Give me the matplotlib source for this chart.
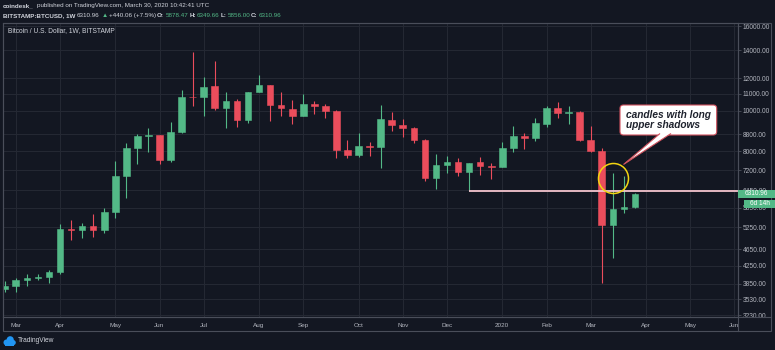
import numpy as np
import pandas as pd
import matplotlib
matplotlib.use("Agg")
import matplotlib.pyplot as plt
import matplotlib.dates as mdates
from matplotlib.patches import Rectangle, FancyBboxPatch, Polygon, Circle
from matplotlib.lines import Line2D
from matplotlib.ticker import FixedLocator, FixedFormatter, NullLocator
from matplotlib.transforms import Bbox

# weekly BTCUSD candles, Bitstamp
weeks = pd.date_range("2019-02-25", periods=58, freq="W-MON")
opens = [3740, 3800, 3915, 3970, 3985, 4100, 5200, 5165, 5300, 5165,
         5710, 6975, 8160, 8720, 8750, 7640, 8900, 10830, 10780, 11450,
         10160, 10595, 9525, 11110, 11540, 10320, 10130, 9730, 10395, 10300,
         10020, 8060, 7850, 8240, 8200, 9525, 9260, 9090, 8530, 6900,
         7400, 7520, 7120, 7520, 7360, 7335, 8140, 8720, 8610, 9300,
         10160, 9900, 9960, 8500, 8010, 5330, 5830, 5878.47]
highs = [3900, 3970, 4060, 4060, 4160, 5350, 5470, 5380, 5640, 5840,
         7600, 8370, 8800, 9080, 8760, 9400, 11240, 13880, 12050, 13200,
         11100, 10700, 11130, 12230, 11560, 11090, 10630, 11000, 10540, 10400,
         10050, 8530, 8830, 8400, 10360, 9960, 9570, 9150, 8540, 7900,
         7780, 7700, 7500, 7750, 7500, 8410, 9200, 8840, 9610, 10290,
         10480, 10290, 9980, 9210, 8150, 7100, 6980, 6349.66]
lows = [3670, 3675, 3790, 3920, 3860, 4060, 4910, 4960, 4990, 5080,
        5540, 6190, 7450, 7990, 7440, 7520, 8860, 10260, 9700, 10070,
        9090, 9150, 9350, 11090, 9440, 9730, 9320, 9700, 9830, 9620,
        7710, 7710, 7750, 7800, 7300, 8930, 8640, 8370, 6800, 6510,
        7100, 6990, 6425, 7020, 6860, 7330, 7980, 8100, 8450, 9150,
        9600, 9300, 8450, 7980, 3860, 4440, 5680, 5856.00]
closes = [3800, 3915, 3975, 3985, 4100, 5195, 5165, 5300, 5165, 5710,
          6975, 8160, 8720, 8750, 7640, 8900, 10830, 10780, 11430, 10160,
          10595, 9525, 11110, 11540, 10320, 10150, 9730, 10395, 10265, 10020,
          8070, 7850, 8230, 8180, 9560, 9230, 9090, 8500, 6900, 7420,
          7520, 7130, 7495, 7390, 7320, 8150, 8690, 8610, 9350, 10160,
          9900, 9940, 8530, 8000, 5330, 5820, 5880, 6310.96]

price_ticks = [3230, 3530, 3850, 4250, 4650, 5250, 5850, 6450, 7200, 8000,
               8800, 10000, 11000, 12000, 14000, 16000]
month_ticks = ["2019-03-04", "2019-04-01", "2019-05-06", "2019-06-03",
               "2019-07-01", "2019-08-05", "2019-09-02", "2019-10-07",
               "2019-11-04", "2019-12-02", "2020-01-06", "2020-02-03",
               "2020-03-02", "2020-04-06", "2020-05-04", "2020-06-01"]
month_labels = ["Mar", "Apr", "May", "Jun", "Jul", "Aug", "Sep", "Oct",
                "Nov", "Dec", "2020", "Feb", "Mar", "Apr", "May", "Jun"]

BG = "#131722"
GRID = "#242833"
BORDER = "#4a4e5a"
TEXT = "#d1d4dc"
AXTEXT = "#b2b5be"
UP = "#53b987"
DOWN = "#eb4d5c"

plt.rcParams["font.family"] = ["Liberation Sans", "DejaVu Sans"]

W, H = 775, 350
fig = plt.figure(figsize=(W / 100, H / 100), dpi=100, facecolor=BG)
renderer = fig.canvas.get_renderer()


def fx(x):
    return x / W


def fy(y):
    return 1 - y / H


def inch(x, y):
    return x / 100, (H - y) / 100


def text_run(y, parts, size):
    # place text pieces left to right, never closer than 1px to the previous one
    end = 0
    for xp, s, col, weight in parts:
        xp = max(xp, end + 1)
        t = fig.text(fx(xp), fy(y), s, color=col, fontsize=size,
                     fontweight=weight, va="center", ha="left")
        end = t.get_window_extent(renderer).x1


left, top, right, bottom = 3, 22.7, 738, 316.5
ax = fig.add_axes([fx(left), fy(bottom), (right - left) / W, (bottom - top) / H])
ax.set_facecolor(BG)

x = mdates.date2num(weeks)
o = np.array(opens)
h = np.array(highs)
l = np.array(lows)
c = np.array(closes)
colors = np.where(c >= o, UP, DOWN)

ax.vlines(x, l, h, colors=colors, linewidth=0.8, zorder=2)
ax.bar(x, np.abs(c - o), bottom=np.minimum(o, c), width=4.2, color=colors,
       edgecolor=colors, linewidth=0.4, zorder=3)

ax.set_yscale("log")
x_left = x[0] - 1.08
x_right = x_left + 465.3
ax.set_xlim(x_left, x_right)
ax.set_ylim(3208, 16295)

# support line drawn from the December low
ax.hlines(lows[42], x[42], x_right, colors="#f4c4ce", linewidth=1.3, zorder=4)

ax.yaxis.tick_right()
ax.yaxis.set_major_locator(FixedLocator(price_ticks))
ax.yaxis.set_major_formatter(FixedFormatter([f"{v:.2f}" for v in price_ticks]))
ax.yaxis.set_minor_locator(NullLocator())
ax.set_xticks(mdates.date2num(pd.to_datetime(month_ticks)))
ax.set_xticklabels(month_labels)
ax.tick_params(axis="y", colors=BORDER, labelcolor=AXTEXT, labelsize=4.8,
               length=2, width=0.6, pad=1.6)
ax.tick_params(axis="x", colors=BORDER, labelcolor=AXTEXT, labelsize=4.6,
               length=0, pad=4.5)
ax.grid(True, color=GRID, linewidth=0.8)
ax.set_axisbelow(True)
for s in ax.spines.values():
    s.set_color(BORDER)
    s.set_linewidth(0.8)
for lab in ax.get_xticklabels():
    lab.set_clip_box(Bbox.from_extents(0, 0, right, H))
    lab.set_clip_on(True)

# marker around the long upper shadows
ax.plot(x[55], 6890, marker="o", markersize=21.6, markerfacecolor="none",
        markeredgecolor="#f3d511", markeredgewidth=1.1, zorder=6)

# outer frame and panel separators
fig.patches.append(Rectangle(inch(3, 331), 7.68, 3.083, transform=fig.dpi_scale_trans,
                             fill=False, edgecolor=BORDER, linewidth=0.8))
fig.lines.append(Line2D([fx(3), fx(771)], [fy(bottom), fy(bottom)],
                        transform=fig.transFigure, color=BORDER, linewidth=0.8))
fig.lines.append(Line2D([fx(right), fx(right)], [fy(top), fy(331)],
                        transform=fig.transFigure, color=BORDER, linewidth=0.8))

# callout
fig.patches.append(FancyBboxPatch(inch(620, 135), 0.967, 0.30,
                                  boxstyle="round,pad=0,rounding_size=0.035",
                                  transform=fig.dpi_scale_trans, facecolor="white",
                                  edgecolor="#d0525e", linewidth=0.8, zorder=5))
fig.patches.append(Polygon([inch(660, 133.5), inch(623.5, 164.5), inch(671, 133.5)],
                           closed=False, transform=fig.dpi_scale_trans,
                           facecolor="white", edgecolor="#d0525e", linewidth=0.8, zorder=6))
fig.text(fx(626), fy(120), "candles with long\nupper shadows", color="#1e222d",
         fontsize=7.3, fontweight="bold", fontstyle="italic", va="center", ha="left",
         linespacing=0.95, zorder=7)

# last price labels on the price scale
y_last = H - ax.transData.transform((x[-1], closes[-1]))[1]
fig.patches.append(Rectangle(inch(738, y_last + 3.6), 0.37, 0.08,
                             transform=fig.dpi_scale_trans, facecolor=UP,
                             edgecolor="none", zorder=5))
fig.text(fx(756.5), fy(y_last - 0.4), f"{closes[-1]:.2f}", color="white", fontsize=4.7,
         ha="center", va="center", zorder=6)
fig.patches.append(Rectangle(inch(744, y_last + 13.6), 0.31, 0.08,
                             transform=fig.dpi_scale_trans, facecolor=UP,
                             edgecolor="none", zorder=5))
fig.text(fx(759.5), fy(y_last + 9.6), "6d 14h", color="white", fontsize=4.7,
         ha="center", va="center", zorder=6)

# header
hs = 4.5
text_run(6, [(2.7, "coindesk_", TEXT, "bold"),
             (36.7, "published on TradingView.com, March 30, 2020 10:42:41 UTC", TEXT, "normal")], hs)
text_run(15.3, [(2.7, "BITSTAMP:BTCUSD, 1W", TEXT, "bold"),
                (76.7, "6310.96", TEXT, "normal"), (101.5, "▲", UP, "normal"),
                (106.7, "+440.06 (+7.5%)", TEXT, "normal"),
                (156, "O:", TEXT, "bold"), (165.5, "5878.47", UP, "normal"),
                (186.5, "H:", TEXT, "bold"), (193, "6349.66", UP, "normal"),
                (216, "L:", TEXT, "bold"), (221, "5856.00", UP, "normal"),
                (245, "C:", TEXT, "bold"), (250.5, "6310.96", UP, "normal")], hs)
fig.text(fx(7.5), fy(30.5), "Bitcoin / U.S. Dollar, 1W, BITSTAMP", color=TEXT,
         fontsize=4.8, va="center")

# TradingView logo
for cx, cy, r in [(6.5, 342.5, 3.0), (10.2, 339.8, 3.6), (13.2, 342.6, 2.6)]:
    fig.patches.append(Circle(inch(cx, cy), r / 100, transform=fig.dpi_scale_trans,
                              facecolor="#2196f3", edgecolor="none"))
fig.patches.append(Rectangle(inch(4.5, 345.5), 0.092, 0.035, transform=fig.dpi_scale_trans,
                             facecolor="#2196f3", edgecolor="none"))
fig.text(fx(17.5), fy(341), "TradingView", color=TEXT, fontsize=4.8, va="center")

fig.savefig("out.png", dpi=100, facecolor=BG)
